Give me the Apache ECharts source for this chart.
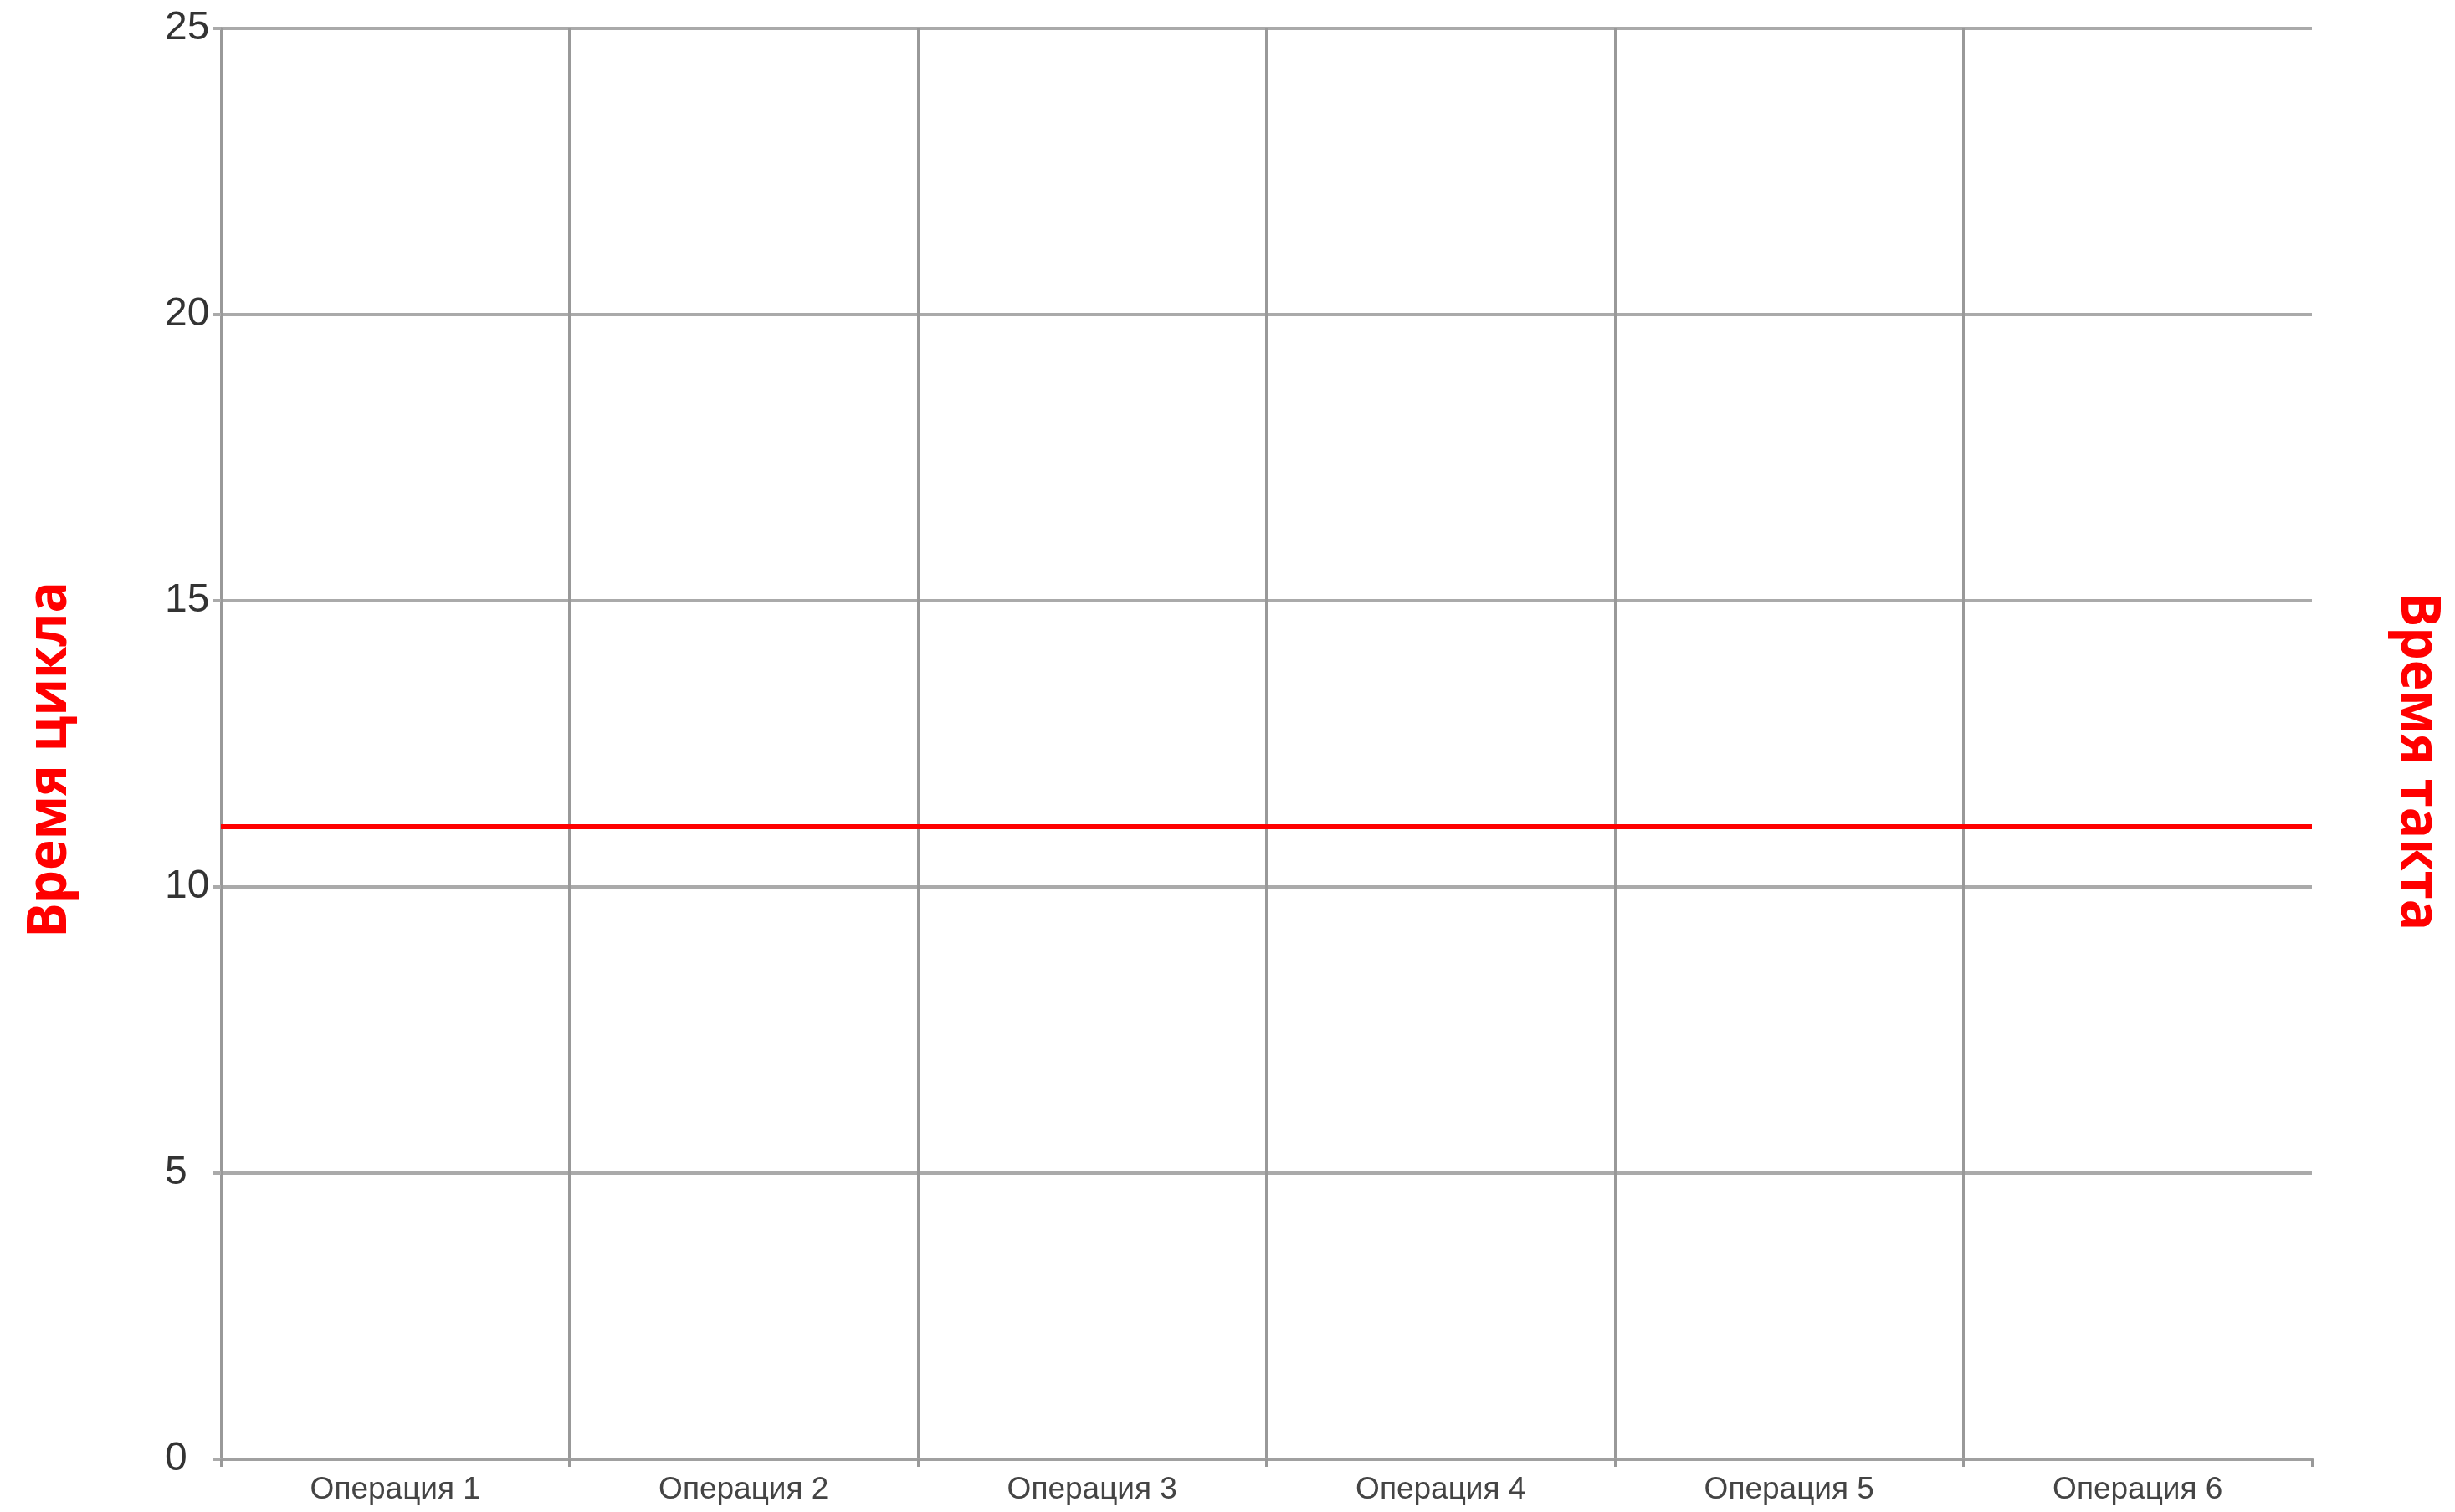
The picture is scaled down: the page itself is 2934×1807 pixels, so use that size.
<!DOCTYPE html>
<html>
<head>
<meta charset="utf-8">
<script src="https://cdn.jsdelivr.net/npm/echarts@6/dist/echarts.min.js"></script>
<style>
html,body{margin:0;padding:0;background:#fff;}
#chart{width:2934px;height:1807px;}
</style>
</head>
<body>
<div id="chart"></div>
<script>
const categories = ['Операция 1', 'Операция 2', 'Операция 3', 'Операция 4', 'Операция 5', 'Операция 6'];
const cycleTimes = [null, null, null, null, null, null];
const taktTime = 11.05;
const yTicks = { min: 0, max: 25, interval: 5 };
const leftTitle = 'Время цикла';
const rightTitle = 'Время такта';

const chart = echarts.init(document.getElementById('chart'), null, { renderer: 'canvas' });
chart.setOption({
  animation: false,
  backgroundColor: '#ffffff',
  grid: { left: 264, right: 171, top: 34, bottom: 63, containLabel: false },
  xAxis: {
    type: 'category',
    data: categories,
    boundaryGap: true,
    axisLine: { show: true, lineStyle: { color: '#a0a0a0', width: 4 } },
    axisTick: { show: true, alignWithLabel: false, length: 9, lineStyle: { color: '#999999', width: 3 } },
    axisLabel: { show: true, margin: 18, color: '#444444', fontSize: 37, fontFamily: "'Liberation Sans', Arial, sans-serif", interval: 0 },
    splitLine: { show: true, showMaxLine: false, lineStyle: { color: '#999999', width: 3 } }
  },
  yAxis: [
    {
      type: 'value',
      position: 'left',
      min: yTicks.min, max: yTicks.max, interval: yTicks.interval,
      axisLine: { show: true, lineStyle: { color: '#999999', width: 3 } },
      axisTick: { show: true, length: 10, lineStyle: { color: '#aaaaaa', width: 4 } },
      axisLabel: { show: true, margin: 67, align: 'left', color: '#333333', fontSize: 48, fontFamily: "'Liberation Sans', Arial, sans-serif" },
      splitLine: { show: true, lineStyle: { color: '#aaaaaa', width: 4 } }
    },
    {
      type: 'value',
      position: 'right',
      min: yTicks.min, max: yTicks.max, interval: yTicks.interval,
      axisLine: { show: false }, axisTick: { show: false }, axisLabel: { show: false }, splitLine: { show: false }
    }
  ],
  graphic: [
    { type: 'text', x: 60, y: 908, rotation: Math.PI / 2, scaleX: 0.925,
      style: { text: leftTitle, fill: '#ff0000', font: "bold 67px 'Open Sans', 'Noto Sans', sans-serif", textAlign: 'center', textVerticalAlign: 'middle' } },
    { type: 'text', x: 2889, y: 910, rotation: -Math.PI / 2, scaleX: 0.925,
      style: { text: rightTitle, fill: '#ff0000', font: "bold 67px 'Open Sans', 'Noto Sans', sans-serif", textAlign: 'center', textVerticalAlign: 'middle' } }
  ],
  series: [
    {
      type: 'bar',
      name: leftTitle,
      data: cycleTimes,
      silent: true,
      markLine: {
        silent: true,
        symbol: 'none',
        label: { show: false },
        lineStyle: { color: '#ff0000', width: 6, type: 'solid' },
        data: [{ yAxis: taktTime }]
      }
    }
  ]
});
</script>
</body>
</html>
